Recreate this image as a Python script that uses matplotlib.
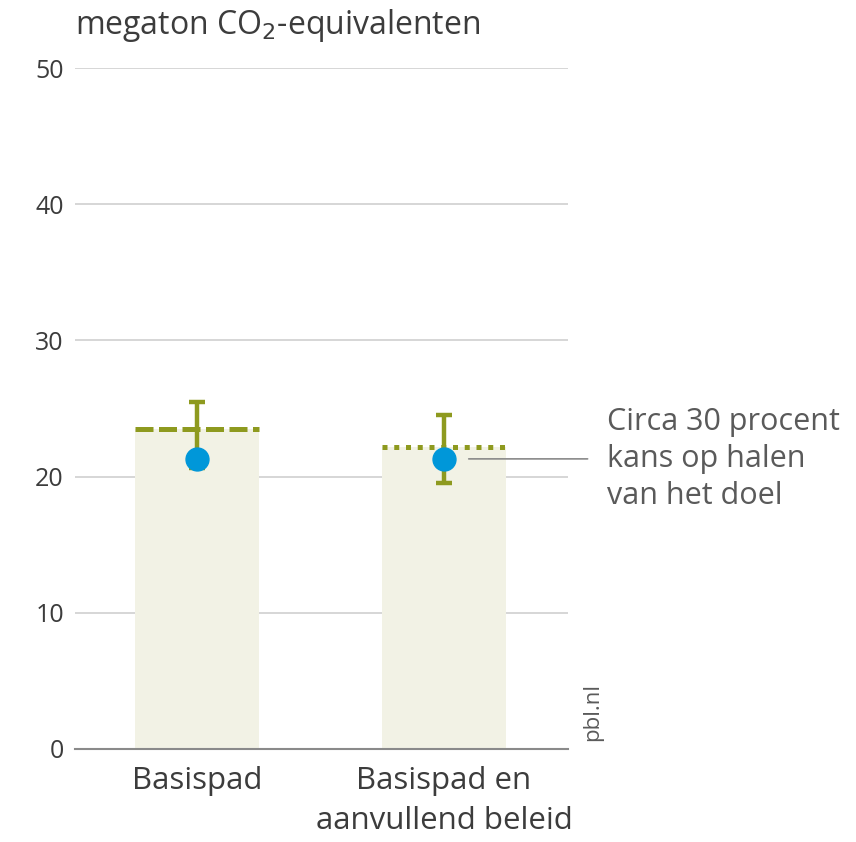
import matplotlib.pyplot as plt

categories = ["Basispad", "Basispad en\naanvullend beleid"]
bar_values = [23.5, 22.2]
err_low = [20.6, 19.5]
err_high = [25.5, 24.5]
dot_values = [21.3, 21.3]
line_styles = [(0, (3.6, 1.1)), (0, (1, 1.35))]
yticks = [0, 10, 20, 30, 40, 50]

plt.rcParams['font.family'] = ['Open Sans', 'DejaVu Sans']

olive = '#8e9a1f'
blue = '#0097d9'
textc = '#3c3c3c'

fig = plt.figure(figsize=(8.56, 8.42), dpi=100)
ax = fig.add_axes([0.0876, 0.1105, 0.576, 0.8087])

x = list(range(len(categories)))
ax.bar(x, bar_values, width=0.5, color='#f2f2e5', zorder=2)

for i in x:
    # target line on top of bar
    ax.plot([i - 0.25, i + 0.25], [bar_values[i]] * 2, color=olive, lw=3.6,
            linestyle=line_styles[i], zorder=3)
    # uncertainty range
    mid = dot_values[i]
    ax.errorbar(i, mid, yerr=[[mid - err_low[i]], [err_high[i] - mid]], fmt='none',
                ecolor=olive, elinewidth=3.2, capsize=6, capthick=3.2, zorder=4)
    ax.plot(i, mid, 'o', color=blue, ms=16.5, zorder=5)

ax.set_xlim(-0.494, 1.502)
ax.set_ylim(0, 50)
ax.set_yticks(yticks)
ax.yaxis.grid(True, color='#cfcfcf', lw=1.2)
ax.set_axisbelow(True)
for s in ['top', 'right', 'left']:
    ax.spines[s].set_visible(False)
ax.spines['bottom'].set_color('#8a8a8a')
ax.spines['bottom'].set_linewidth(1.5)
ax.tick_params(axis='y', length=0, pad=8, labelsize=18, labelcolor=textc)
ax.tick_params(axis='x', length=0, pad=12, labelsize=22.5, labelcolor=textc)
ax.set_xticks(x)
ax.set_xticklabels(categories, linespacing=1.45)

fig.text(0.0876, 0.97, 'megaton CO$_2$-equivalenten', fontsize=23, color=textc,
         ha='left', va='center')

# annotation
ax.annotate('Circa 30 procent\nkans op halen\nvan het doel', xy=(1.1, dot_values[1]),
            xytext=(1.66, dot_values[1]), textcoords='data', annotation_clip=False,
            fontsize=22, color='#5a5a5a', ha='left', va='center', linespacing=1.3,
            arrowprops=dict(arrowstyle='-', color='#8a8a8a', lw=1.2,
                            shrinkA=12, shrinkB=0))

fig.text(0.692, 0.12, 'pbl.nl', rotation=90, fontsize=16, color='#5a5a5a',
         ha='center', va='bottom')

fig.savefig('out.png', dpi=100)
